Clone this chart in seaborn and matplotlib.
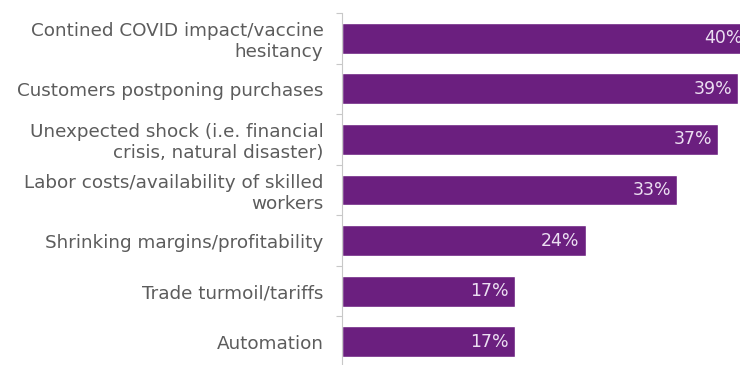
import matplotlib
matplotlib.use("Agg")
import matplotlib.pyplot as plt
import seaborn as sns
import pandas as pd
from matplotlib.ticker import FixedLocator

# Concerns and share of respondents (%)
categories = [
    "Contined COVID impact/vaccine\nhesitancy",
    "Customers postponing purchases",
    "Unexpected shock (i.e. financial\ncrisis, natural disaster)",
    "Labor costs/availability of skilled\nworkers",
    "Shrinking margins/profitability",
    "Trade turmoil/tariffs",
    "Automation",
]
values = [40, 39, 37, 33, 24, 17, 17]
value_labels = ["40%", "39%", "37%", "33%", "24%", "17%", "17%"]

BAR_COLOR = "#6b1f7f"
TEXT_COLOR = "#5c5c5c"
AXIS_COLOR = "#c8c8c8"

sns.set_theme(style="white")
plt.rcParams["font.family"] = ["DejaVu Sans"]

df = pd.DataFrame({"concern": categories, "share": values})

fig = plt.figure(figsize=(7.4, 3.65), dpi=100)
ax = fig.add_axes([341.5 / 740, -2 / 365, 1 - 341.5 / 740, 354 / 365])

sns.barplot(data=df, y="concern", x="share", orient="h", color=BAR_COLOR,
            saturation=1, width=0.61, ax=ax)

ax.set_xlim(0, 39.15)
ax.set_ylim(len(categories) - 0.5, -0.5)

# value labels inside the bar ends
for i, (v, lab) in enumerate(zip(values, value_labels)):
    ax.text(v - 0.6, i, lab, ha="right", va="center", color="#ecdff2",
            fontsize=12.5, clip_on=True)

ax.set_xlabel("")
ax.set_ylabel("")
ax.set_xticks([])
ax.tick_params(axis="y", which="major", length=0, pad=13,
               labelsize=13.2, labelcolor=TEXT_COLOR)
for t in ax.get_yticklabels():
    t.set_multialignment("right")
    t.set_linespacing(1.2)

ax.yaxis.set_minor_locator(FixedLocator([i + 0.5 for i in range(-1, len(categories))]))
ax.tick_params(axis="y", which="minor", length=4, width=0.8, color=AXIS_COLOR,
               direction="out", left=True)

for side in ["top", "right", "bottom"]:
    ax.spines[side].set_visible(False)
ax.spines["left"].set_color(AXIS_COLOR)
ax.spines["left"].set_linewidth(0.8)

fig.savefig("out.png", dpi=100)
